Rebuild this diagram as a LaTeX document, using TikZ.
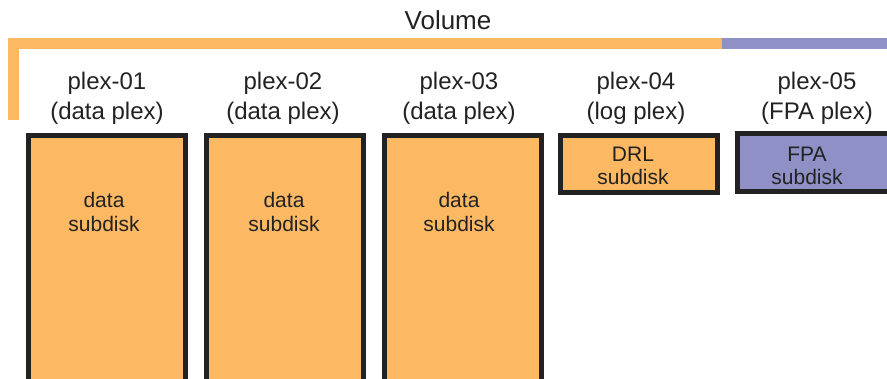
\documentclass[tikz,border=0pt]{standalone}
\usepackage{fontspec}
\setmainfont{Liberation Sans}
\definecolor{plexorange}{HTML}{FDB863}
\definecolor{plexpurple}{HTML}{8E90C6}
\definecolor{edgedark}{HTML}{222222}
\begin{document}
\begin{tikzpicture}[x=1pt,y=-1pt,
  sub/.style={draw=edgedark,line width=5pt,inner sep=0pt,outer sep=0pt},
  plexlabel/.style={align=center,font=\fontsize{24}{30}\selectfont,inner sep=0pt,text=edgedark},
  sublabel/.style={align=center,font=\fontsize{21}{23.5}\selectfont,inner sep=0pt,text=edgedark}]
\useasboundingbox (0,0) rectangle (887,378);
\begin{scope}
\clip (0,0) rectangle (887,378);
% volume bracket
\fill[plexorange] (8,38) rectangle (722,49);
\fill[plexorange] (8,38) rectangle (19,120);
\fill[plexpurple] (722,38) rectangle (887,49);
\node[plexlabel,font=\fontsize{26}{30}\selectfont] (vol) at (448,20) {Volume};
% data subdisks
\node[sub,fill=plexorange,minimum width=157pt,minimum height=260pt,anchor=north west] (sd1) at (28.5,135.5) {};
\node[sub,fill=plexorange,minimum width=157pt,minimum height=260pt,anchor=north west] (sd2) at (206.5,135.5) {};
\node[sub,fill=plexorange,minimum width=157pt,minimum height=260pt,anchor=north west] (sd3) at (384.5,135.5) {};
% log subdisk
\node[sub,fill=plexorange,minimum width=157pt,minimum height=57pt,anchor=north west] (sd4) at (560.5,135.5) {};
% FPA subdisk
\node[sub,fill=plexpurple,minimum width=157pt,minimum height=58pt,anchor=north west] (sd5) at (737.5,133.5) {};
\end{scope}
% plex labels
\node[plexlabel] (p1) at (107,98) {plex-01\\(data plex)};
\node[plexlabel] (p2) at (283,98) {plex-02\\(data plex)};
\node[plexlabel] (p3) at (459,98) {plex-03\\(data plex)};
\node[plexlabel] (p4) at (636,98) {plex-04\\(log plex)};
\node[plexlabel] (p5) at (817,98) {plex-05\\(FPA plex)};
% subdisk labels
\node[sublabel] (t1) at (104,212) {data\\subdisk};
\node[sublabel] (t2) at (284,212) {data\\subdisk};
\node[sublabel] (t3) at (459,212) {data\\subdisk};
\node[sublabel] (t4) at (633,166) {DRL\\subdisk};
\node[sublabel] (t5) at (807,166) {FPA\\subdisk};
\end{tikzpicture}
\end{document}
